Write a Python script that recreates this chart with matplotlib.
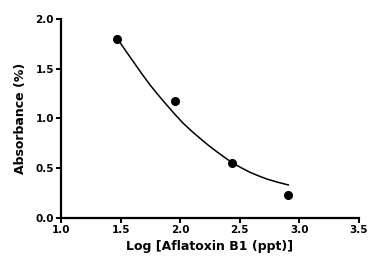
import matplotlib
matplotlib.use('Agg')
import matplotlib.pyplot as plt

# measured points
log_conc = [1.472, 1.956, 2.432, 2.907]
absorb = [1.796, 1.179, 0.549, 0.231]

# fitted curve
fit_x = [1.481, 1.544, 1.607, 1.677, 1.747, 1.817, 1.887, 1.957, 2.026, 2.096,
         2.166, 2.236, 2.306, 2.376, 2.446, 2.516, 2.586, 2.656, 2.726, 2.816, 2.907]
fit_y = [1.789, 1.678, 1.571, 1.451, 1.337, 1.234, 1.136, 1.040, 0.951, 0.873,
         0.801, 0.731, 0.667, 0.606, 0.549, 0.502, 0.459, 0.424, 0.392, 0.360, 0.332]

x_ticks = [1.0, 1.5, 2.0, 2.5, 3.0, 3.5]
y_ticks = [0.0, 0.5, 1.0, 1.5, 2.0]

plt.rcParams['font.family'] = ['DejaVu Sans']
plt.rcParams['font.weight'] = 'bold'

fig = plt.figure(figsize=(3.69, 2.62), dpi=100)
ax = fig.add_axes([0.1653, 0.168, 0.8076, 0.7595])

ax.plot(fit_x, fit_y, color='black', lw=1.1)
ax.plot(log_conc, absorb, 'o', color='black', ms=5.5)

ax.set_xlim(1.0, 3.5)
ax.set_ylim(0.0, 2.0)
ax.set_xticks(x_ticks)
ax.set_yticks(y_ticks)
ax.set_xticklabels(['%.1f' % v for v in x_ticks], fontsize=7.5, fontweight='bold')
ax.set_yticklabels(['%.1f' % v for v in y_ticks], fontsize=7.5, fontweight='bold')

for s in ['top', 'right']:
    ax.spines[s].set_visible(False)
for s in ['left', 'bottom']:
    ax.spines[s].set_linewidth(1.6)
ax.tick_params(width=1.4, length=3.5, pad=1.5)

ax.set_xlabel('Log [Aflatoxin B1 (ppt)]', fontsize=9, fontweight='bold', labelpad=4)
ax.set_ylabel('Absorbance (%)', fontsize=9, fontweight='bold', labelpad=6)

fig.savefig('out.png', dpi=100)
